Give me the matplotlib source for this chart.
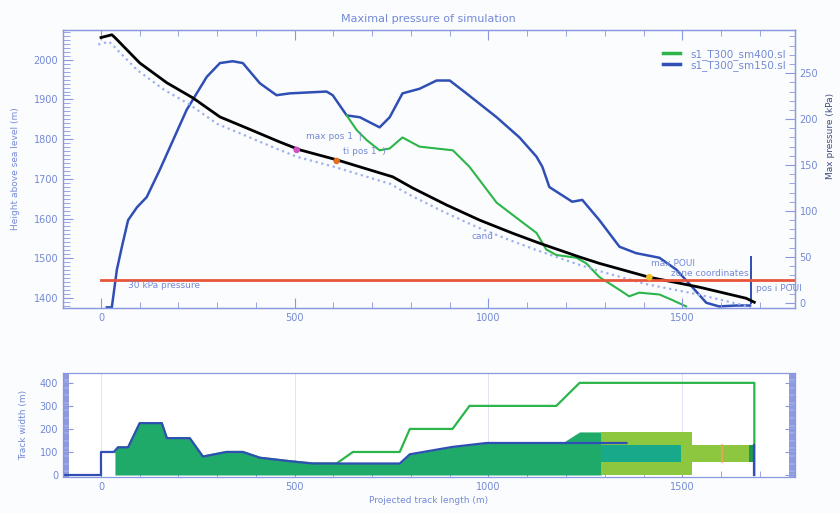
import matplotlib
matplotlib.use("Agg")
import matplotlib.pyplot as plt
import matplotlib.transforms as mtransforms
from matplotlib.ticker import MultipleLocator
from matplotlib.lines import Line2D

# ---- top panel: terrain profile and max pressure ----
dist_h = [0, 28, 36, 100, 170, 237, 307, 376, 461, 513, 608, 719, 753, 804, 892,
          977, 1062, 1131, 1235, 1286, 1415, 1544, 1665, 1686]
height = [2056, 2063, 2056, 1992, 1942, 1904, 1856, 1828, 1793, 1773, 1748, 1715,
          1705, 1677, 1634, 1596, 1563, 1538, 1503, 1487, 1452, 1427, 1399, 1389]

dist_b = [15, 28, 41, 54, 70, 93, 118, 152, 221, 273, 307, 340, 366, 410, 453, 487,
          582, 598, 634, 668, 719, 745, 778, 822, 866, 900, 943, 1021, 1080, 1124,
          1139, 1157, 1216, 1242, 1286, 1338, 1381, 1441, 1485, 1526, 1562, 1595,
          1640, 1675]
p_sm150 = [-5, -5, 36, 61, 90, 104, 115, 145, 210, 246, 261, 263, 261, 239, 226, 228,
           230, 226, 204, 202, 191, 202, 228, 233, 242, 242, 228, 202, 180, 159,
           148, 126, 110, 112, 90, 61, 54, 49, 36, 17, 0, -4, -3, -3]

dist_g = [634, 660, 686, 719, 745, 778, 822, 908, 951, 1021, 1080, 1124, 1149, 1175,
          1227, 1252, 1286, 1338, 1363, 1389, 1441, 1474, 1510]
p_sm400 = [204, 188, 177, 166, 168, 180, 170, 166, 148, 109, 90, 76, 58, 52, 49, 43,
           28, 14, 7, 11, 9, 3, -4]

ref_height = 1445          # 30 kPa pressure level
marker_x = [505, 608, 1415]
marker_h = [1773, 1745, 1452]
marker_c = ["#d050c0", "#e07020", "#f0c020"]
end_x = 1678
end_p = [0, 50]

# ---- bottom panel: track widths ----
dist_fill = [36, 44, 70, 100, 157, 170, 229, 263, 324, 366, 410, 487, 546, 608, 771,
             797, 907, 995, 1190, 1235, 1291]
width_fill = [100, 120, 120, 225, 225, 160, 160, 80, 100, 100, 75, 60, 50, 50, 50,
              90, 122, 139, 139, 187, 187]

dist_narrow = [-100, 0, 0, 33, 44, 70, 100, 157, 170, 229, 263, 324, 366, 410, 487,
               546, 608, 771, 797, 907, 995, 1356]
width_narrow = [0, 0, 100, 100, 120, 120, 225, 225, 160, 160, 80, 100, 100, 75, 60,
                50, 50, 50, 90, 122, 139, 139]

dist_wide = [36, 44, 70, 100, 157, 170, 229, 263, 324, 366, 410, 487, 546, 608, 650,
             771, 797, 907, 951, 1175, 1235, 1686, 1686]
width_wide = [100, 120, 120, 225, 225, 160, 160, 80, 100, 100, 75, 60, 50, 50, 100,
              100, 200, 200, 300, 300, 400, 400, 0]

zone_x = [1291, 1526]
zone_top = 187
band_x = [1291, 1497]
band2_x = [1526, 1672]
band3_x = [1672, 1686]
band_lo, band_hi = 57, 130
orange_x = 1603

AX = "#8a98e0"
TXT = "#7389d6"
BLUE = "#2f4fb5"
GREEN = "#2cb54a"

plt.rcParams["font.family"] = ["DejaVu Sans"]
fig = plt.figure(figsize=(8.4, 5.13), dpi=100, facecolor="#fbfcfe")
ax = fig.add_axes([0.075, 0.40, 0.871, 0.5415])
ax2 = ax.twinx()
axb = fig.add_axes([0.075, 0.070, 0.871, 0.203])


def style(a):
    a.set_facecolor("white")
    for s in a.spines.values():
        s.set_color(AX)
        s.set_linewidth(0.9)
    a.tick_params(which="both", direction="in", colors=AX, labelcolor=TXT, labelsize=7)
    a.tick_params(which="major", length=7)
    a.tick_params(which="minor", length=4)


style(ax)
style(ax2)
style(axb)
ax.patch.set_alpha(0)
ax.set_zorder(ax2.get_zorder() + 1)
ax2.set_facecolor("white")

# top panel
ax.set_xlim(-98, 1790)
ax.set_ylim(1375, 2075)
ax2.set_ylim(-5.5, 297)
ax.xaxis.set_major_locator(MultipleLocator(500))
ax.xaxis.set_minor_locator(MultipleLocator(100))
ax.yaxis.set_major_locator(MultipleLocator(100))
ax.yaxis.set_minor_locator(MultipleLocator(10))
ax2.yaxis.set_major_locator(MultipleLocator(50))
ax2.yaxis.set_minor_locator(MultipleLocator(10))
ax.tick_params(top=True, which="both")
ax.tick_params(axis="y", which="minor", length=5)

ax2.plot(dist_b, p_sm150, color=BLUE, lw=1.8)
ax2.plot(dist_g, p_sm400, color=GREEN, lw=1.5)
ax2.plot([end_x, end_x], end_p, color=BLUE, lw=1.4)

shadow = mtransforms.offset_copy(ax.transData, fig=fig, x=-2, y=-5, units="points")
ax.plot(dist_h, height, ":", color="#9fb0ee", lw=1.6, transform=shadow)
ax.plot(dist_h, height, color="black", lw=2.0)
ax.axhline(ref_height, xmin=(0 + 98) / 1888, color="#e8553a", lw=2.0)
ax.scatter(marker_x, marker_h, s=14, c=marker_c, zorder=5)

ax.text(70, 1425, "30 kPa pressure", fontsize=6.5, color=TXT)
ax.text(530, 1800, "max pos 1  |", fontsize=6.5, color=TXT)
ax.text(625, 1763, "ti pos 1  )", fontsize=6.5, color=TXT)
ax.text(955, 1548, "cand", fontsize=6.5, color=TXT)
ax.text(1420, 1480, "max POUI", fontsize=6.5, color=TXT)
ax.text(1470, 1455, "zone coordinates", fontsize=6.5, color=TXT, clip_on=False)
ax.text(1690, 1418, "pos i POUI", fontsize=6.5, color=TXT, clip_on=False)

ax.set_title("Maximal pressure of simulation", fontsize=8, color=TXT, pad=6)
ax.set_ylabel("Height above sea level (m)", fontsize=6.5, color=TXT, labelpad=10)
ax2.set_ylabel("Max pressure (kPa)", fontsize=6.5, color="#404a80")
ax2.yaxis.set_label_coords(1.043, 0.62)

handles = [Line2D([], [], color=GREEN, lw=2.5), Line2D([], [], color=BLUE, lw=2.5)]
leg = ax.legend(handles, ["s1_T300_sm400.sl", "s1_T300_sm150.sl"], loc="upper right",
                bbox_to_anchor=(0.997, 0.955), frameon=False, fontsize=7.5,
                handlelength=1.6, labelspacing=0.0, handletextpad=1.0,
                borderaxespad=0.2)
for t in leg.get_texts():
    t.set_color(TXT)

# bottom panel
axb.set_xlim(-98, 1790)
axb.set_ylim(-9, 443)
axb.xaxis.set_major_locator(MultipleLocator(500))
axb.xaxis.set_minor_locator(MultipleLocator(100))
axb.yaxis.set_major_locator(MultipleLocator(100))
axb.yaxis.set_minor_locator(MultipleLocator(5))
axb.tick_params(right=True, which="both")
axb.tick_params(axis="y", which="minor", length=4, width=1.2)
axb.set_axisbelow(True)
axb.grid(True, axis="x", color="#dfe4f7", lw=0.7)

axb.fill_between(dist_fill, 0, width_fill, color="#1faa6a", lw=0)
axb.fill_between(zone_x, 0, zone_top, color="#8dc63f", lw=0)
axb.fill_between(band_x, band_lo, band_hi, color="#18a88a", lw=0)
axb.fill_between(band2_x, band_lo, band_hi, color="#8dc63f", lw=0)
axb.fill_between(band3_x, band_lo, band_hi, color="#1f9a4a", lw=0)
axb.plot([orange_x, orange_x], [band_lo, band_hi], color="#f0a060", lw=1.2)
axb.plot(dist_wide, width_wide, color=GREEN, lw=1.6)
axb.plot(dist_narrow, width_narrow, color=BLUE, lw=1.6)
axb.plot([band3_x[1], band3_x[1]], [0, band_hi], color=BLUE, lw=1.6)

axb.set_ylabel("Track width (m)", fontsize=6.5, color=TXT, labelpad=8)
axb.set_xlabel("Projected track length (m)", fontsize=6.5, color=TXT, labelpad=3)
axb.set_yticks([0, 100, 200, 300, 400])

fig.savefig("out.png", dpi=100, facecolor=fig.get_facecolor())
